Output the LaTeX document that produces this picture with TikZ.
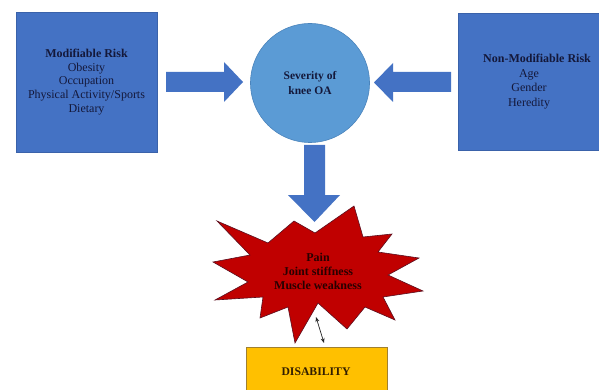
\documentclass[tikz,border=0pt]{standalone}
\usepackage{fontspec}
\setmainfont{Liberation Serif}
\usetikzlibrary{arrows.meta}
\begin{document}
\begin{tikzpicture}[x=1pt,y=-1pt,
  riskbox/.style={draw=boxedge, line width=0.6pt, fill=boxblue, text=textnavy, align=center,
    font=\fontsize{12}{13.8}\selectfont, inner sep=0pt},
  blockarrow/.style={fill=arrowblue, draw=none},
  boldlbl/.style={font=\fontsize{12}{14}\selectfont\bfseries, align=center}]
\definecolor{boxblue}{HTML}{4472C4}
\definecolor{boxedge}{HTML}{3A62AA}
\definecolor{arrowblue}{HTML}{4472C4}
\definecolor{circblue}{HTML}{5B9BD5}
\definecolor{circedge}{HTML}{4A84BC}
\definecolor{textnavy}{HTML}{14183A}
\definecolor{starred}{HTML}{C00000}
\definecolor{staredge}{HTML}{5A1020}
\definecolor{disyellow}{HTML}{FFC000}
\definecolor{disedge}{HTML}{A08030}
\clip (0,0) rectangle (599,390);
\useasboundingbox (0,0) rectangle (599,390);
\fill[white] (0,0) rectangle (599,390);

% left and right boxes
\node[riskbox, minimum width=141pt, minimum height=140pt] (mod) at (86.5,82)
  {\textbf{Modifiable Risk}\\Obesity\\Occupation\\Physical Activity/Sports\\Dietary};
\node[riskbox, minimum width=141pt, minimum height=137pt] (nonmod) at (529,81.5) {};
\node[align=center, text=textnavy, font=\fontsize{12}{14.5}\selectfont, inner sep=0pt] (nonmodtext) at (529,81.5)
  {\hspace*{16pt}\textbf{Non-Modifiable Risk}\\Age\\Gender\\Heredity};

% circle
\node[circle, fill=circblue, draw=circedge, line width=0.6pt, minimum size=119pt,
  boldlbl, font=\fontsize{11.5}{15}\selectfont\bfseries, text=textnavy] (sev) at (310,83) {Severity of\\knee OA};

% block arrows
\fill[blockarrow] (166,72) -- (224,72) -- (224,62) -- (243,82) -- (224,102) -- (224,92) -- (166,92) -- cycle;
\fill[blockarrow] (451,72) -- (393,72) -- (393,63) -- (374,82.5) -- (393,102) -- (393,92) -- (451,92) -- cycle;
\fill[blockarrow] (304,145) -- (325,145) -- (325,195) -- (340,195) -- (314.5,222) -- (288,195) -- (304,195) -- cycle;

% starburst
\filldraw[fill=starred, draw=staredge, line width=0.6pt, line join=miter]
  (217,221) -- (268,243) -- (294,221) -- (315,233) -- (354,206) -- (363,237) -- (392,234)
  -- (378,252) -- (419,258) -- (388,275) -- (423,291) -- (383,297) -- (395,320) -- (365,307)
  -- (347,329) -- (318,303) -- (295,343) -- (288,307) -- (260,318) -- (263,297) -- (215,300)
  -- (248,282) -- (213,262) -- (250,255) -- cycle;
\node[boldlbl, font=\fontsize{12}{14}\selectfont\bfseries, text={rgb,255:red,40;green,0;blue,0}] (sym) at (318,271)
  {Pain\\Joint stiffness\\Muscle weakness};

% disability box
\node[draw=disedge, line width=0.6pt, fill=disyellow, minimum width=141pt, minimum height=60pt,
  anchor=north, inner sep=0pt] (dis) at (316.5,347) {};
\node[font=\fontsize{11.7}{12}\selectfont\bfseries, text={rgb,255:red,50;green,30;blue,0}] (distext) at (316,372) {DISABILITY};

% small double arrow
\coordinate (da) at (316,317);
\coordinate (db) at (324,343);
\draw[<->, >={Stealth[length=5pt,width=4pt]}, line width=0.7pt, black!85] (da) -- (db);
\end{tikzpicture}
\end{document}
